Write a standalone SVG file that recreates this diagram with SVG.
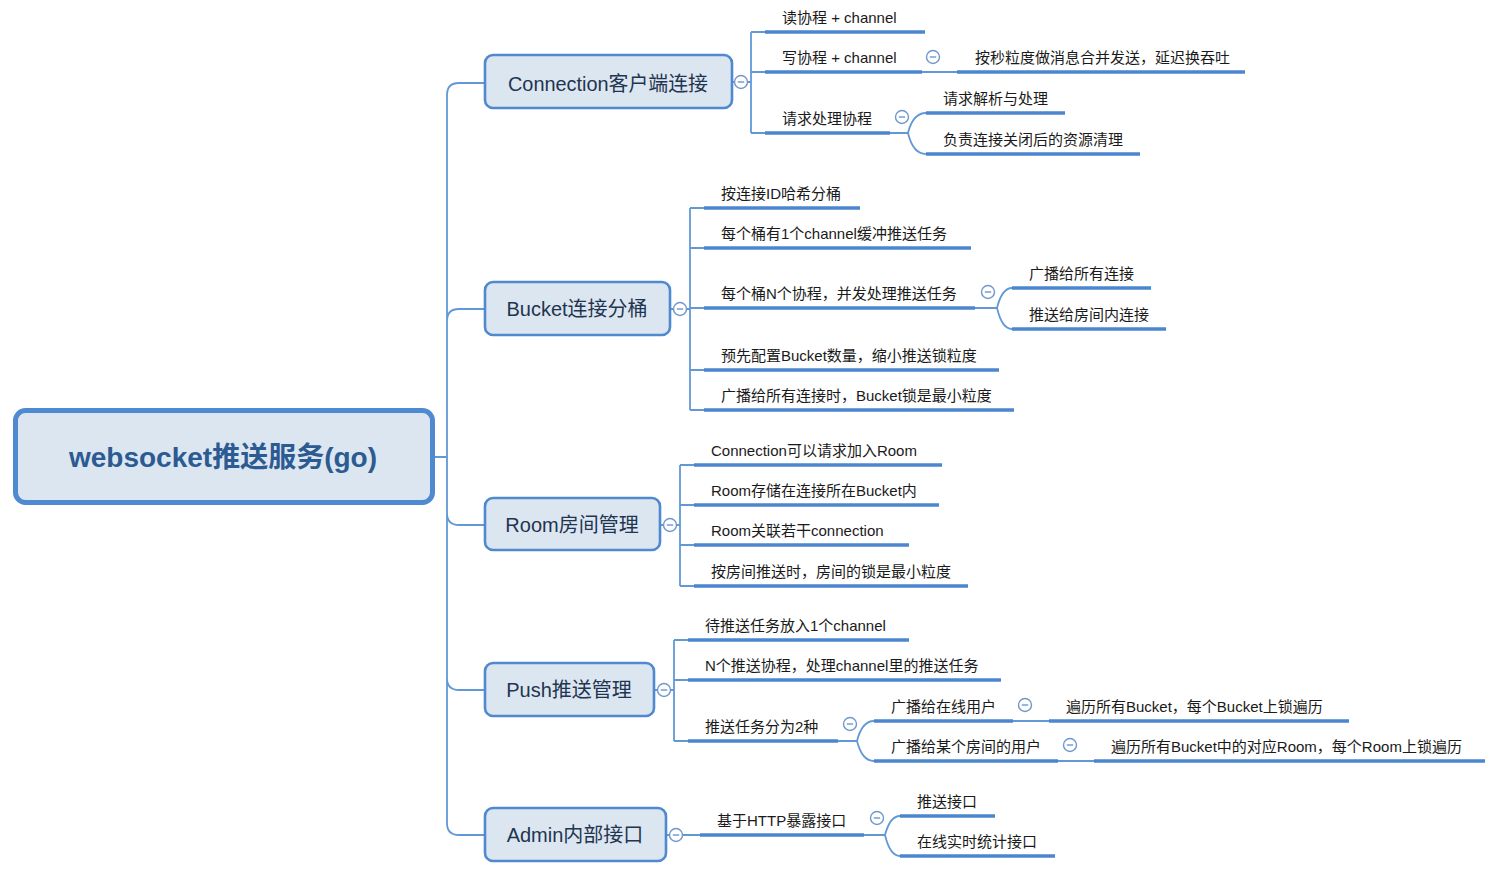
<svg xmlns="http://www.w3.org/2000/svg" width="1498" height="879" viewBox="0 0 1498 879">
<style>
.bg{fill:#ffffff}
.thin{fill:none;stroke:#6398d6;stroke-width:1.8}
.thick{fill:none;stroke:#4b86cf;stroke-width:3.6}
.box{fill:#dce6f1;stroke:#4f89d0;stroke-width:2.6}
.root{fill:#dce6f1;stroke:#4f89d0;stroke-width:5}
.t{font-family:"Liberation Sans","Noto Sans CJK SC",sans-serif;font-size:15px;fill:#1a1a1a}
.t1{font-family:"Liberation Sans","Noto Sans CJK SC",sans-serif;font-size:20px;fill:#1f3550;text-anchor:middle}
.t0{font-family:"Liberation Sans","Noto Sans CJK SC",sans-serif;font-size:28px;font-weight:bold;fill:#2c5b91;text-anchor:middle}
.cc{fill:#ffffff;stroke:#6f98cc;stroke-width:1.4}
.cm{stroke:#6f98cc;stroke-width:1.4}
</style>
<defs>
<g id="col"><circle class="cc" r="6.5"/><line class="cm" x1="-3.2" y1="0" x2="3.2" y2="0"/></g>
</defs>
<rect class="bg" width="1498" height="879"/>
<g id="connectors">
<path class="thin" d="M433,457H447M447,457V95Q447,83 459,83H485M447,457V321Q447,309 459,309H485M447,457V513Q447,525 459,525H485M447,457V678Q447,690 459,690H485M447,457V823Q447,835 459,835H485"/>
<path class="thin" d="M732,82H735M747,82H751M751,32V133M751,32H765M751,72H765M751,133H765"/>
<path class="thin" d="M922,72H957M890,133H908M908,133Q913,113 926,113M908,133Q913,154 926,154"/>
<path class="thin" d="M670,309H674M686,309H690M690,208V410M690,208H704M690,248H704M690,308H704M690,370H704M690,410H704"/>
<path class="thin" d="M975,308H997M997,308Q1002,288 1012,288M997,308Q1002,329 1012,329"/>
<path class="thin" d="M660,525H664M676,525H680M680,465V586M680,465H694M680,505H694M680,545H694M680,586H694"/>
<path class="thin" d="M654,690H658M670,690H674M674,640V741M674,640H688M674,680H688M674,741H688"/>
<path class="thin" d="M838,741H857M857,741Q862,721 874,721M857,741Q862,761 874,761M1013,721H1049M1058,761H1094"/>
<path class="thin" d="M666,835H670M682,835H700M864,835H885M885,835Q890,816 900,816M885,835Q890,856 900,856"/>
</g>
<g id="root"><rect class="root" x="15.5" y="410.5" width="417" height="92" rx="10"/><text class="t0" x="223" y="467">websocket推送服务(go)</text></g>
<g id="n-connection"><rect class="box" x="485" y="55" width="247" height="53" rx="8"/><text class="t1" x="608" y="91" textLength="200" lengthAdjust="spacingAndGlyphs">Connection客户端连接</text><use href="#col" x="741" y="82"/></g>
<g id="n-read"><path class="thick" d="M765,32H925"/><text class="t" x="782" y="23">读协程 + channel</text></g>
<g id="n-write"><path class="thick" d="M765,72H922"/><text class="t" x="782" y="63">写协程 + channel</text><use href="#col" x="933" y="57"/></g>
<g id="n-write-1"><path class="thick" d="M957,72H1245"/><text class="t" x="975" y="63">按秒粒度做消息合并发送，延迟换吞吐</text></g>
<g id="n-req"><path class="thick" d="M765,133H890"/><text class="t" x="782" y="124">请求处理协程</text><use href="#col" x="902" y="117"/></g>
<g id="n-req-1"><path class="thick" d="M926,113H1065"/><text class="t" x="943" y="104">请求解析与处理</text></g>
<g id="n-req-2"><path class="thick" d="M926,154H1140"/><text class="t" x="943" y="145">负责连接关闭后的资源清理</text></g>
<g id="n-bucket"><rect class="box" x="485" y="282" width="185" height="53" rx="8"/><text class="t1" x="577" y="316">Bucket连接分桶</text><use href="#col" x="680" y="309"/></g>
<g id="n-b1"><path class="thick" d="M704,208H860"/><text class="t" x="721" y="199">按连接ID哈希分桶</text></g>
<g id="n-b2"><path class="thick" d="M704,248H971"/><text class="t" x="721" y="239">每个桶有1个channel缓冲推送任务</text></g>
<g id="n-b3"><path class="thick" d="M704,308H975"/><text class="t" x="721" y="299">每个桶N个协程，并发处理推送任务</text><use href="#col" x="988" y="292"/></g>
<g id="n-b3-1"><path class="thick" d="M1012,288H1151"/><text class="t" x="1029" y="279">广播给所有连接</text></g>
<g id="n-b3-2"><path class="thick" d="M1012,329H1166"/><text class="t" x="1029" y="320">推送给房间内连接</text></g>
<g id="n-b4"><path class="thick" d="M704,370H999"/><text class="t" x="721" y="361">预先配置Bucket数量，缩小推送锁粒度</text></g>
<g id="n-b5"><path class="thick" d="M704,410H1014"/><text class="t" x="721" y="401">广播给所有连接时，Bucket锁是最小粒度</text></g>
<g id="n-room"><rect class="box" x="485" y="498" width="175" height="52" rx="8"/><text class="t1" x="572" y="532">Room房间管理</text><use href="#col" x="670" y="525"/></g>
<g id="n-r1"><path class="thick" d="M694,465H942"/><text class="t" x="711" y="456">Connection可以请求加入Room</text></g>
<g id="n-r2"><path class="thick" d="M694,505H939"/><text class="t" x="711" y="496">Room存储在连接所在Bucket内</text></g>
<g id="n-r3"><path class="thick" d="M694,545H909"/><text class="t" x="711" y="536">Room关联若干connection</text></g>
<g id="n-r4"><path class="thick" d="M694,586H968"/><text class="t" x="711" y="577">按房间推送时，房间的锁是最小粒度</text></g>
<g id="n-push"><rect class="box" x="485" y="663" width="169" height="53" rx="8"/><text class="t1" x="569" y="697">Push推送管理</text><use href="#col" x="664" y="690"/></g>
<g id="n-p1"><path class="thick" d="M688,640H909"/><text class="t" x="705" y="631">待推送任务放入1个channel</text></g>
<g id="n-p2"><path class="thick" d="M688,680H1001"/><text class="t" x="705" y="671">N个推送协程，处理channel里的推送任务</text></g>
<g id="n-p3"><path class="thick" d="M688,741H838"/><text class="t" x="705" y="732">推送任务分为2种</text><use href="#col" x="850" y="724"/></g>
<g id="n-p3-1"><path class="thick" d="M874,721H1013"/><text class="t" x="891" y="712">广播给在线用户</text><use href="#col" x="1025" y="705"/></g>
<g id="n-p3-1-1"><path class="thick" d="M1049,721H1349"/><text class="t" x="1066" y="712">遍历所有Bucket，每个Bucket上锁遍历</text></g>
<g id="n-p3-2"><path class="thick" d="M874,761H1058"/><text class="t" x="891" y="752">广播给某个房间的用户</text><use href="#col" x="1070" y="745"/></g>
<g id="n-p3-2-1"><path class="thick" d="M1094,761H1485"/><text class="t" x="1111" y="752">遍历所有Bucket中的对应Room，每个Room上锁遍历</text></g>
<g id="n-admin"><rect class="box" x="485" y="808" width="181" height="53" rx="8"/><text class="t1" x="575" y="842">Admin内部接口</text><use href="#col" x="676" y="835"/></g>
<g id="n-a1"><path class="thick" d="M700,835H864"/><text class="t" x="717" y="826">基于HTTP暴露接口</text><use href="#col" x="877" y="818"/></g>
<g id="n-a1-1"><path class="thick" d="M900,816H995"/><text class="t" x="917" y="807">推送接口</text></g>
<g id="n-a1-2"><path class="thick" d="M900,856H1055"/><text class="t" x="917" y="847">在线实时统计接口</text></g>
</svg>
